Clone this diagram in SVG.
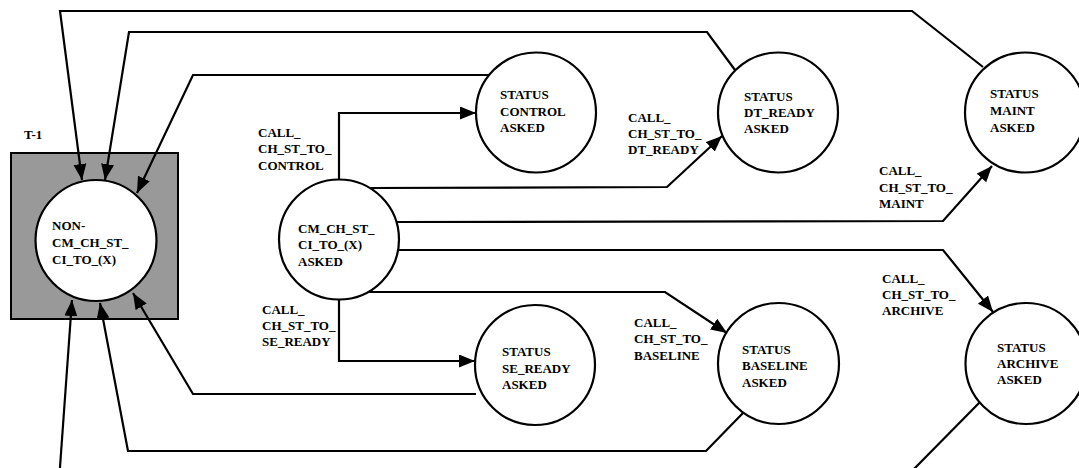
<svg xmlns="http://www.w3.org/2000/svg" width="1079" height="468" viewBox="0 0 1079 468">
  <style>
    .node { fill: #ffffff; stroke: #000000; stroke-width: 2.2; }
    .frame { fill: #999999; stroke: #000000; stroke-width: 2; }
    .edge { fill: none; stroke: #000000; stroke-width: 2.2; marker-end: url(#arrow); }
    .edge-plain { fill: none; stroke: #000000; stroke-width: 2.2; }
    text { font-family: "Liberation Serif", "Times New Roman", serif; font-weight: bold; font-size: 13px; fill: #000000; }
  </style>
  <defs>
    <marker id="arrow" markerUnits="userSpaceOnUse" markerWidth="18" markerHeight="14" refX="16" refY="6.5" orient="auto">
      <path d="M0,0 L16,6.5 L0,13 Z" fill="#000000"/>
    </marker>
  </defs>

  <!-- T-1 frame -->
  <g id="frame-t1">
    <rect class="frame" x="11" y="153" width="167" height="166"/>
    <text x="24" y="139">T-1</text>
  </g>

  <!-- connectors -->
  <g id="connectors">
    <!-- from CM_CH_ST_CI_TO_(X) ASKED -->
    <polyline class="edge" points="339,179 339,113 476,113"/>
    <polyline class="edge" points="370,188 667,187 722,136"/>
    <polyline class="edge" points="397,222 943,221 992,166"/>
    <polyline class="edge" points="397,250 943,250 993,312"/>
    <polyline class="edge" points="369,292 665,292 727,333"/>
    <polyline class="edge" points="339,300 339,361 475,361"/>

    <!-- returns to NON-CM_CH_ST_CI_TO_(X) -->
    <polyline class="edge" points="490,75 193,75 137,193"/>
    <polyline class="edge" points="735,70 707,32 129,32 105,180"/>
    <polyline class="edge" points="983,67 912,11 60,11 82,180"/>
    <polyline class="edge" points="476,394 193,394 133,293"/>
    <polyline class="edge" points="743,413 706,451 128,451 100,303"/>
    <polyline class="edge" points="59.8,470 72,300"/>
    <polyline class="edge-plain" points="980,402 913,470"/>

    <!-- transition labels -->
    <text x="258" y="137">CALL_</text>
    <text x="258" y="153">CH_ST_TO_</text>
    <text x="258" y="170">CONTROL</text>

    <text x="628" y="122">CALL_</text>
    <text x="628" y="138">CH_ST_TO_</text>
    <text x="628" y="154">DT_READY</text>

    <text x="879" y="175">CALL_</text>
    <text x="879" y="192">CH_ST_TO_</text>
    <text x="879" y="208">MAINT</text>

    <text x="882" y="283">CALL_</text>
    <text x="882" y="299">CH_ST_TO_</text>
    <text x="882" y="315">ARCHIVE</text>

    <text x="634" y="327">CALL_</text>
    <text x="634" y="343">CH_ST_TO_</text>
    <text x="634" y="360">BASELINE</text>

    <text x="262" y="314">CALL_</text>
    <text x="262" y="330">CH_ST_TO_</text>
    <text x="262" y="346">SE_READY</text>
  </g>

  <!-- states -->
  <g id="node-non-cm">
    <circle class="node" cx="96" cy="240.5" r="60.5"/>
    <text x="52" y="230">NON-</text>
    <text x="52" y="247">CM_CH_ST_</text>
    <text x="52" y="264">CI_TO_(X)</text>
  </g>

  <g id="node-cm-asked">
    <circle class="node" cx="339" cy="239.5" r="60"/>
    <text x="298" y="233">CM_CH_ST_</text>
    <text x="298" y="249">CI_TO_(X)</text>
    <text x="298" y="266">ASKED</text>
  </g>

  <g id="node-control">
    <circle class="node" cx="536" cy="112.5" r="60"/>
    <text x="500" y="99">STATUS</text>
    <text x="500" y="116">CONTROL</text>
    <text x="500" y="132">ASKED</text>
  </g>

  <g id="node-dt-ready">
    <circle class="node" cx="778" cy="112.5" r="60"/>
    <text x="744" y="101">STATUS</text>
    <text x="744" y="117">DT_READY</text>
    <text x="744" y="133">ASKED</text>
  </g>

  <g id="node-maint">
    <circle class="node" cx="1025" cy="112.5" r="60"/>
    <text x="990" y="98">STATUS</text>
    <text x="990" y="115">MAINT</text>
    <text x="990" y="132">ASKED</text>
  </g>

  <g id="node-se-ready">
    <circle class="node" cx="535" cy="365" r="60"/>
    <text x="502" y="356">STATUS</text>
    <text x="502" y="373">SE_READY</text>
    <text x="502" y="389">ASKED</text>
  </g>

  <g id="node-baseline">
    <circle class="node" cx="778.5" cy="363.5" r="60.5"/>
    <text x="742" y="354">STATUS</text>
    <text x="742" y="370">BASELINE</text>
    <text x="742" y="387">ASKED</text>
  </g>

  <g id="node-archive">
    <circle class="node" cx="1026" cy="363.5" r="60.5"/>
    <text x="997" y="352">STATUS</text>
    <text x="997" y="368">ARCHIVE</text>
    <text x="997" y="384">ASKED</text>
  </g>
</svg>
